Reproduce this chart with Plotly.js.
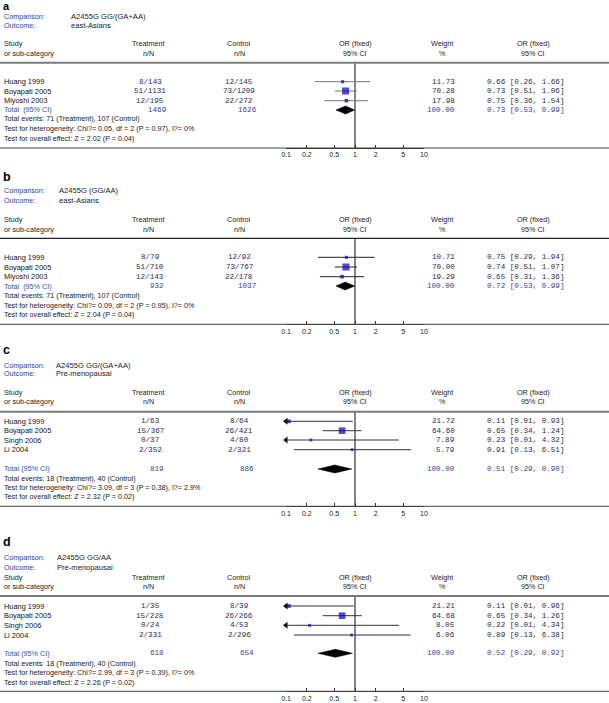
<!DOCTYPE html>
<html><head><meta charset="utf-8">
<script src="https://cdn.plot.ly/plotly-3.0.1.min.js"></script>
<style>html,body{margin:0;padding:0;background:#fff}#chart{width:609px;height:703px}</style>
</head><body><div id="chart"></div>
<script>
// ---------------- DATA ----------------
const panelLetters = ['a', 'b', 'c', 'd'];
const comparisons = ['A2455G GG/(GA+AA)', 'A2455G (GG/AA)', 'A2455G GG/(GA+AA)', 'A2455G GG/AA'];
const outcomes = ['east-Asians', 'east-Asians', 'Pre-menopausal', 'Pre-menopausal'];

const studiesA = ['Huang 1999', 'Boyapati 2005', 'Miyoshi 2003'];
const treatA = ['8/143', '51/1131', '12/195'];
const ctrlA = ['12/145', '73/1209', '22/272'];
const weightA = [11.73, 70.28, 17.98];
const orA = [0.66, 0.73, 0.75];
const loA = [0.26, 0.51, 0.36];
const hiA = [1.66, 1.06, 1.54];

const studiesB = ['Huang 1999', 'Boyapati 2005', 'Miyoshi 2003'];
const treatB = ['8/79', '51/710', '12/143'];
const ctrlB = ['12/92', '73/767', '22/178'];
const weightB = [10.71, 70.00, 19.29];
const orB = [0.75, 0.74, 0.65];
const loB = [0.29, 0.51, 0.31];
const hiB = [1.94, 1.07, 1.36];

const studiesC = ['Huang 1999', 'Boyapati 2005', 'Singh 2006', 'Li 2004'];
const treatC = ['1/63', '15/367', '0/37', '2/352'];
const ctrlC = ['8/64', '26/421', '4/80', '2/321'];
const weightC = [21.72, 64.60, 7.89, 5.79];
const orC = [0.11, 0.65, 0.23, 0.91];
const loC = [0.01, 0.34, 0.01, 0.13];
const hiC = [0.93, 1.24, 4.32, 6.51];

const studiesD = ['Huang 1999', 'Boyapati 2005', 'Singh 2006', 'Li 2004'];
const treatD = ['1/35', '15/228', '0/24', '2/331'];
const ctrlD = ['8/39', '26/266', '4/53', '2/296'];
const weightD = [21.21, 64.68, 8.05, 6.06];
const orD = [0.11, 0.65, 0.22, 0.89];
const loD = [0.01, 0.34, 0.01, 0.13];
const hiD = [0.96, 1.26, 4.34, 6.38];

const totalLabels = ['Total\u00a0\u00a0(95% CI)', 'Total\u00a0\u00a0(95% CI)', 'Total (95% CI)', 'Total (95% CI)'];
const totalTreat = ['1469', '932', '819', '618'];
const totalCtrl = ['1626', '1037', '886', '654'];
const totalWeight = [100.00, 100.00, 100.00, 100.00];
const totalOR = [0.73, 0.72, 0.51, 0.52];
const totalLo = [0.53, 0.53, 0.29, 0.29];
const totalHi = [0.99, 0.99, 0.90, 0.92];
const eventsText = [
  'Total events: 71 (Treatment), 107 (Control)',
  'Total events: 71 (Treatment), 107 (Control)',
  'Total events: 18 (Treatment), 40 (Control)',
  'Total events: 18 (Treatment), 40 (Control)'];
const hetText = [
  'Test for heterogeneity: Chi?= 0.05, df = 2 (P = 0.97), I?= 0%',
  'Test for heterogeneity: Chi?= 0.09, df = 2 (P = 0.95), I?= 0%',
  'Test for heterogeneity: Chi?= 3.09, df = 3 (P = 0.38), I?= 2.9%',
  'Test for heterogeneity: Chi?= 2.99, df = 3 (P = 0.39), I?= 0%'];
const overallText = [
  'Test for overall effect: Z = 2.02 (P = 0.04)',
  'Test for overall effect: Z = 2.04 (P = 0.04)',
  'Test for overall effect: Z = 2.32 (P = 0.02)',
  'Test for overall effect: Z = 2.26 (P = 0.02)'];
const tickValues = [0.1, 0.2, 0.5, 1, 2, 5, 10];
const tickLabels = ['0.1', '0.2', '0.5', '1', '2', '5', '10'];

const panelData = [
  {studies: studiesA, treat: treatA, ctrl: ctrlA, w: weightA, or: orA, lo: loA, hi: hiA},
  {studies: studiesB, treat: treatB, ctrl: ctrlB, w: weightB, or: orB, lo: loB, hi: hiB},
  {studies: studiesC, treat: treatC, ctrl: ctrlC, w: weightC, or: orC, lo: loC, hi: hiC},
  {studies: studiesD, treat: treatD, ctrl: ctrlD, w: weightD, or: orD, lo: loD, hi: hiD}
];

// ---------------- LAYOUT GEOMETRY (pixels) ----------------
const W = 609, H = 703;
const PX = x => x / W, PY = y => 1 - y / H;
const geo = [
  {title: 6.4, tSize: 11, comp: 16.9, outc: 25.6, study: 43.3, sub: 53.3, hdr: 62.7, rows: [81.7, 91, 100.7], total: 110, ev: 119, het: 128.7, ov: 138, axis: 148, compX: 70, hdrW: 2, hdrC: '#7a7a7a', ciC: '#777'},
  {title: 177.5, tSize: 12.5, comp: 190.7, outc: 200.7, study: 219.3, sub: 229.3, hdr: 238.3, rows: [257.3, 267, 276.7], total: 286, ev: 295.7, het: 305, ov: 315, axis: 324.3, compX: 58, hdrW: 1.3, hdrC: '#222', ciC: '#222'},
  {title: 350, tSize: 12.5, comp: 365, outc: 373.3, study: 392.3, sub: 401.7, hdr: 411.7, rows: [421.3, 430.7, 440, 449.7], total: 469, ev: 478, het: 487.7, ov: 496.7, axis: 506.3, compX: 55, hdrW: 2, hdrC: '#7a7a7a', ciC: '#333'},
  {title: 541.8, tSize: 12.5, comp: 557.3, outc: 567.3, study: 577.3, sub: 586.7, hdr: 596, rows: [606, 615.7, 625.3, 635], total: 653.3, ev: 663.3, het: 672.7, ov: 682.3, axis: 691.3, compX: 56, hdrW: 2, hdrC: '#7a7a7a', ciC: '#333'}
];
const SANS = 'Liberation Sans, Arial, sans-serif';
const MONO = 'Liberation Mono, Courier New, monospace';
const fS = (c, s) => ({family: SANS, size: s || 7.2, color: c || '#1a1a1a'});
const fM = (c) => ({family: MONO, size: 7.6, color: c || '#2c2c55'});
const LBLUE = '#3c3c9c', TBLUE = '#3050b0', NBLUE = '#4040a4';
const X_LEFT = 286, X_RIGHT = 424;

const annotations = [], shapes = [], traces = [];
function txt(x, y, text, font, xanchor) {
  annotations.push({xref: 'paper', yref: 'paper', x: PX(x), y: PY(y), text: text, showarrow: false,
    xanchor: xanchor || 'left', yanchor: 'middle', font: font, borderpad: 0});
}

const layout = {
  width: W, height: H, margin: {l: 0, r: 0, t: 0, b: 0},
  paper_bgcolor: '#fff', plot_bgcolor: 'rgba(0,0,0,0)', showlegend: false, hovermode: false
};

panelData.forEach((d, i) => {
  const g = geo[i];
  const ax = i === 0 ? '' : String(i + 1);
  layout['xaxis' + ax] = {
    type: 'log', domain: [PX(X_LEFT), PX(X_RIGHT)], range: [-1, 1], anchor: 'y' + ax,
    tickvals: tickValues, ticktext: tickLabels, ticks: 'inside', ticklen: 3, tickcolor: '#333', tickwidth: 1,
    showline: true, linecolor: '#333', linewidth: 1, showgrid: false, zeroline: false,
    tickfont: fS('#222', 7), fixedrange: true
  };
  layout['yaxis' + ax] = {domain: [PY(g.axis), PY(g.hdr)], range: [g.axis, g.hdr], visible: false, fixedrange: true};
  const xa = 'x' + ax, ya = 'y' + ax;

  // header texts
  txt(2, g.title, '<b>' + panelLetters[i] + '</b>', fS('#000', g.tSize));
  txt(3, g.comp, 'Comparison:', fS(LBLUE));
  txt(g.compX, g.comp, comparisons[i], fS('#222', 7.6));
  txt(3, g.outc, 'Outcome:', fS(LBLUE));
  txt(g.compX, g.outc, outcomes[i], fS('#222', 7.6));
  txt(3, g.study, 'Study', fS());
  txt(3, g.sub, 'or sub-category', fS());
  [[148, 'Treatment', 'n/N'], [239, 'Control', 'n/N'], [355, 'OR (fixed)', '95% CI'],
   [442.5, 'Weight', '%'], [533, 'OR (fixed)', '95% CI']].forEach(c => {
    txt(c[0], g.study, c[1], fS(), 'center');
    txt(c[0], g.sub, c[2], fS(), 'center');
  });

  // lines
  shapes.push({type: 'line', xref: 'paper', yref: 'paper', x0: 0, x1: 1, y0: PY(g.hdr), y1: PY(g.hdr),
    line: {color: g.hdrC, width: g.hdrW}});
  shapes.push({type: 'line', xref: 'paper', yref: 'paper', x0: 0, x1: 1, y0: PY(g.axis), y1: PY(g.axis),
    line: {color: '#444', width: 1}});

  // null line
  traces.push({type: 'scatter', mode: 'lines', x: [1, 1], y: [g.hdr, g.axis], xaxis: xa, yaxis: ya,
    line: {color: '#333', width: 1.2}, hoverinfo: 'skip'});

  // study rows
  const ciX = [], ciY = [], arX = [], arY = [];
  d.studies.forEach((s, k) => {
    const y = g.rows[k];
    txt(3, y, s, fS('#111', 7.4));
    txt(150, y, d.treat[k], fM(), 'center');
    txt(239, y, d.ctrl[k], fM(), 'center');
    txt(456, y, d.w[k].toFixed(2), fM(), 'right');
    txt(485.5, y, d.or[k].toFixed(2) + ' [' + d.lo[k].toFixed(2) + ', ' + d.hi[k].toFixed(2) + ']', fM(), 'left');
    ciX.push(Math.max(d.lo[k], 0.1), Math.min(d.hi[k], 10), null);
    ciY.push(y, y, null);
    if (d.lo[k] < 0.1) { arX.push(0.1); arY.push(y); }
  });
  traces.push({type: 'scatter', mode: 'lines', x: ciX, y: ciY, xaxis: xa, yaxis: ya,
    line: {color: g.ciC, width: 1}, hoverinfo: 'skip', cliponaxis: false});
  if (arX.length) traces.push({type: 'scatter', mode: 'markers', x: arX, y: arY, xaxis: xa, yaxis: ya,
    marker: {symbol: 'triangle-left', size: 6, color: '#111', line: {width: 0}}, cliponaxis: false, hoverinfo: 'skip'});
  traces.push({type: 'scatter', mode: 'markers', x: d.or, y: g.rows.slice(0, d.or.length), xaxis: xa, yaxis: ya,
    marker: {symbol: 'square', color: '#0000cc', size: d.w.map(w => 2.4 + 0.066 * w), line: {width: 0}},
    cliponaxis: false, hoverinfo: 'skip'});

  // total row
  const t = g.total;
  txt(3, t, totalLabels[i], fS(TBLUE));
  txt(157, t, totalTreat[i], fM(NBLUE), 'center');
  txt(247, t, totalCtrl[i], fM(NBLUE), 'center');
  txt(456, t, totalWeight[i].toFixed(2), fM(NBLUE), 'right');
  txt(485.5, t, totalOR[i].toFixed(2) + ' [' + totalLo[i].toFixed(2) + ', ' + totalHi[i].toFixed(2) + ']', fM(NBLUE), 'left');
  traces.push({type: 'scatter', mode: 'lines', fill: 'toself', fillcolor: '#000',
    x: [totalLo[i], totalOR[i], totalHi[i], totalOR[i], totalLo[i]],
    y: [t, t - 4, t, t + 4, t], xaxis: xa, yaxis: ya, line: {color: '#000', width: 0.5}, hoverinfo: 'skip'});

  txt(3, g.ev, eventsText[i], fS());
  txt(3, g.het, hetText[i], fS());
  txt(3, g.ov, overallText[i], fS());
});

layout.annotations = annotations;
layout.shapes = shapes;
Plotly.newPlot('chart', traces, layout, {staticPlot: true, displayModeBar: false});
</script>
</body></html>
